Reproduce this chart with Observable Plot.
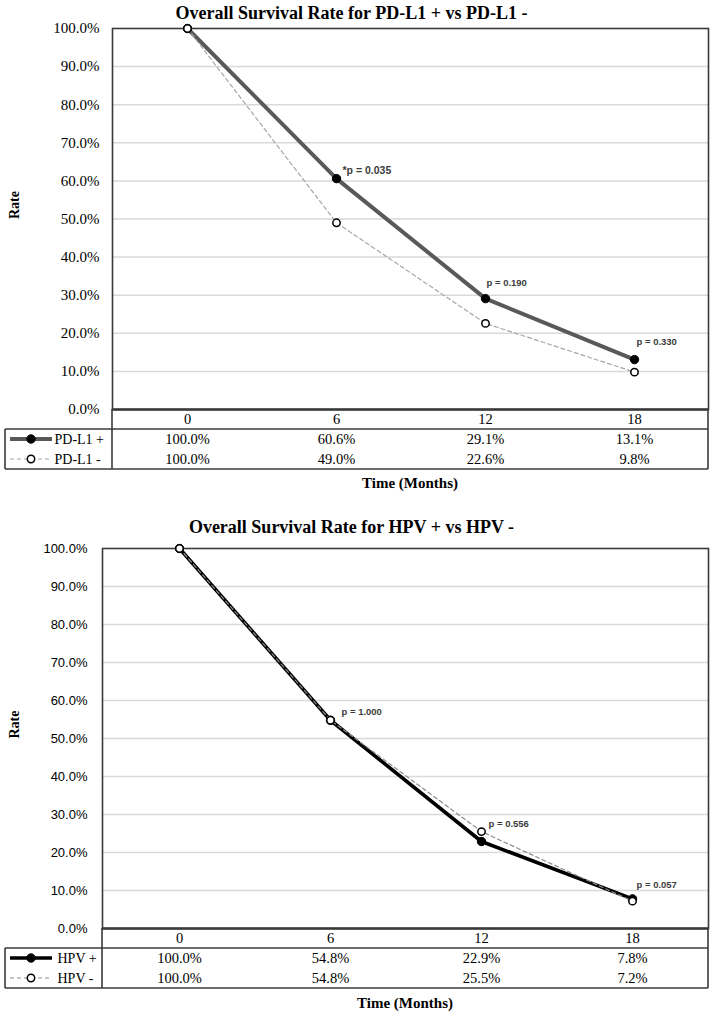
<!DOCTYPE html>
<html><head><meta charset="utf-8">
<script src="https://cdn.jsdelivr.net/npm/d3@7"></script>
<script src="https://cdn.jsdelivr.net/npm/@observablehq/plot@0.6"></script>
<style>
body{margin:0;background:#fff;}
#wrap{position:relative;width:711px;height:1014px;overflow:hidden;background:#fff}
.title{font:bold 18px 'Liberation Serif',serif;text-align:center;color:#000;white-space:nowrap;line-height:20px}
.xlab{font:bold 15px 'Liberation Serif',serif;text-align:center;color:#000;white-space:nowrap;line-height:18px}
</style></head><body><div id="wrap"></div>
<script>
// ---- data ----
const months = [0, 6, 12, 18];
const yTicks = [0, 0.1, 0.2, 0.3, 0.4, 0.5, 0.6, 0.7, 0.8, 0.9, 1.0];

const pdl1Title = "Overall Survival Rate for PD-L1 + vs PD-L1 -";
const pdl1Names = ["PD-L1 +", "PD-L1 -"];
const pdl1Pos = [1.000, 0.606, 0.291, 0.131];
const pdl1Neg = [1.000, 0.490, 0.226, 0.098];
const pdl1PMonths = [6, 12, 18];
const pdl1PLabels = ["*p = 0.035", "p = 0.190", "p = 0.330"];

const hpvTitle = "Overall Survival Rate for HPV + vs HPV -";
const hpvNames = ["HPV +", "HPV -"];
const hpvPos = [1.000, 0.548, 0.229, 0.078];
const hpvNeg = [1.000, 0.548, 0.255, 0.072];
const hpvPMonths = [6, 12, 18];
const hpvPLabels = ["p = 1.000", "p = 0.556", "p = 0.057"];

const xTitle = "Time (Months)";
const yTitle = "Rate";

const wrap = document.getElementById("wrap");
const fmt = d3.format(".1%");

function place(el, top, left) {
  el.style.position = "absolute";
  el.style.top = top + "px";
  el.style.left = (left || 0) + "px";
  wrap.appendChild(el);
}
function div(cls, text, top, left, width) {
  const d = document.createElement("div");
  d.className = cls; d.textContent = text;
  d.style.width = width + "px";
  place(d, top, left);
}

function tableGrid(outerLeft, st) {
  return (index, scales, values, dimensions) => {
    const {width, height, marginLeft, marginRight, marginTop, marginBottom} = dimensions;
    const g = d3.create("svg:g");
    const right = width - marginRight, top = marginTop, bottom = height - marginBottom;
    const rowH = (bottom - top) / 3;
    const c = "#3a3a3a";
    const ln = (x1, y1, x2, y2, w) => g.append("line")
      .attr("x1", x1).attr("y1", y1).attr("x2", x2).attr("y2", y2)
      .attr("stroke", c).attr("stroke-width", w);
    ln(outerLeft, top + rowH, right, top + rowH, 1.6);
    ln(outerLeft, bottom, right, bottom, 1.6);
    ln(marginLeft, top, marginLeft, bottom, 1.6);
    ln(right, top, right, bottom, 1.6);
    ln(outerLeft, top + rowH, outerLeft, bottom, 1.6);
    // legend swatches
    [0, 1].forEach(i => {
      const cy = top + rowH * (i + 1.5);
      const s = st[i];
      g.append("line").attr("x1", 10).attr("x2", 52).attr("y1", cy).attr("y2", cy)
        .attr("stroke", s.stroke).attr("stroke-width", s.width)
        .attr("stroke-dasharray", s.dash || null);
      g.append("circle").attr("cx", 31).attr("cy", cy).attr("r", s.r)
        .attr("fill", s.fill).attr("stroke", s.mstroke).attr("stroke-width", s.mw);
    });
    return g.node();
  };
}

function drawChart(cfg) {
  const pos = months.map((m, i) => ({month: m, value: cfg.pos[i], series: cfg.names[0]}));
  const neg = months.map((m, i) => ({month: m, value: cfg.neg[i], series: cfg.names[1]}));
  const ann = cfg.pMonths.map((m, i) => {
    const k = months.indexOf(m);
    return {month: m, value: Math.max(cfg.pos[k], cfg.neg[k]), label: cfg.pLabels[i]};
  });
  const W = 711, mR = 3;
  const plotH = cfg.zero - cfg.plotTop;

  div("title", cfg.title, cfg.titleY - 10, 0, 703);

  const st = cfg.styles;
  const annMarks = ann.map((a, i) => Plot.text([a], {
    x: "month", y: "value", text: "label",
    dx: cfg.annOff[i][0], dy: cfg.annOff[i][1],
    textAnchor: "start", fontFamily: "Liberation Sans, Arial, sans-serif",
    fontWeight: "bold", fontSize: cfg.annSize[i], fill: "#3c3c3c"
  }));

  const chart = Plot.plot({
    width: W, height: plotH + 10,
    marginTop: 10, marginBottom: 0, marginLeft: cfg.mL, marginRight: mR,
    style: {background: "transparent", overflow: "visible", fontFamily: cfg.tickFont, fontSize: cfg.tickSize, color: "#000"},
    x: {type: "point", domain: months, padding: 0.5, axis: null},
    y: {domain: [0, 1], ticks: yTicks, tickFormat: fmt, tickSize: 0, tickPadding: cfg.tickPad, label: null},
    marks: [
      Plot.ruleY(yTicks.slice(1, -1), {stroke: "#d9d9d9", strokeWidth: 1.5}),
      Plot.frame({stroke: "#3a3a3a", strokeWidth: 1.6}),
      Plot.ruleY([0], {stroke: "#3a3a3a", strokeWidth: 2.6}),
      Plot.line(pos, {x: "month", y: "value", stroke: st[0].stroke, strokeWidth: st[0].width}),
      Plot.dot(pos, {x: "month", y: "value", r: st[0].r, fill: st[0].fill, stroke: st[0].mstroke, strokeWidth: st[0].mw}),
      Plot.line(neg, {x: "month", y: "value", stroke: st[1].stroke, strokeWidth: st[1].width, strokeDasharray: st[1].dash}),
      Plot.dot(neg, {x: "month", y: "value", r: st[1].r, fill: st[1].fill, stroke: st[1].mstroke, strokeWidth: st[1].mw}),
      ...annMarks,
      Plot.text([yTitle], {frameAnchor: "left", dx: 14 - cfg.mL, rotate: -90,
        fontFamily: "Liberation Serif, serif", fontWeight: "bold", fontSize: 14, fill: "#000"})
    ]
  });
  place(chart, cfg.plotTop - 10, 0);

  const rows = [...pos, ...neg];
  const table = Plot.plot({
    width: W, height: 62,
    marginTop: 1, marginBottom: 1, marginLeft: cfg.mL, marginRight: mR,
    style: {background: "transparent", overflow: "visible", fontFamily: "Liberation Serif, serif", fontSize: "14.5px", color: "#000"},
    x: {type: "point", domain: months, padding: 0.5, axis: null},
    y: {type: "band", domain: ["header", ...cfg.names], padding: 0, axis: null},
    marks: [
      tableGrid(5, st),
      Plot.text(months, {x: d => d, y: () => "header", text: d => String(d), fill: "#000", fontSize: 14.5}),
      Plot.text(rows, {x: "month", y: "series", text: d => fmt(d.value), fill: "#000", fontSize: 14.5}),
      Plot.text(cfg.names, {y: d => d, text: d => d, frameAnchor: "left", dx: cfg.labelX - cfg.mL,
        textAnchor: "start", fill: "#000", fontSize: 14})
    ]
  });
  place(table, cfg.zero - 1, 0);

  const cx = (cfg.mL + (W - mR)) / 2;
  div("xlab", xTitle, cfg.timeY - 9, cx - 100, 200);
}

drawChart({
  title: pdl1Title, names: pdl1Names, pos: pdl1Pos, neg: pdl1Neg,
  pMonths: pdl1PMonths, pLabels: pdl1PLabels,
  titleY: 13, plotTop: 28, zero: 409, timeY: 483, mL: 112,
  tickFont: "Liberation Serif, serif", tickSize: "15px", tickPad: 13, labelX: 54,
  annOff: [[6, -8], [1, -16], [2, -18]], annSize: [10.5, 9.5, 9.5],
  styles: [
    {stroke: "#595959", width: 4, r: 4.2, fill: "#000", mstroke: "#000", mw: 1},
    {stroke: "#a6a6a6", width: 1.2, dash: "4,3", r: 3.7, fill: "#fff", mstroke: "#000", mw: 1.5}
  ]
});

drawChart({
  title: hpvTitle, names: hpvNames, pos: hpvPos, neg: hpvNeg,
  pMonths: hpvPMonths, pLabels: hpvPLabels,
  titleY: 527, plotTop: 548, zero: 928, timeY: 1003, mL: 102,
  tickFont: "Liberation Sans, Arial, sans-serif", tickSize: "13px", tickPad: 15, labelX: 57,
  annOff: [[11, -8], [7, -8], [4, -14]], annSize: [9.5, 9.5, 9.5],
  styles: [
    {stroke: "#000", width: 3.6, r: 4.2, fill: "#000", mstroke: "#000", mw: 1},
    {stroke: "#8c8c8c", width: 1.2, dash: "4,3", r: 3.7, fill: "#fff", mstroke: "#000", mw: 1.5}
  ]
});
</script></body></html>
